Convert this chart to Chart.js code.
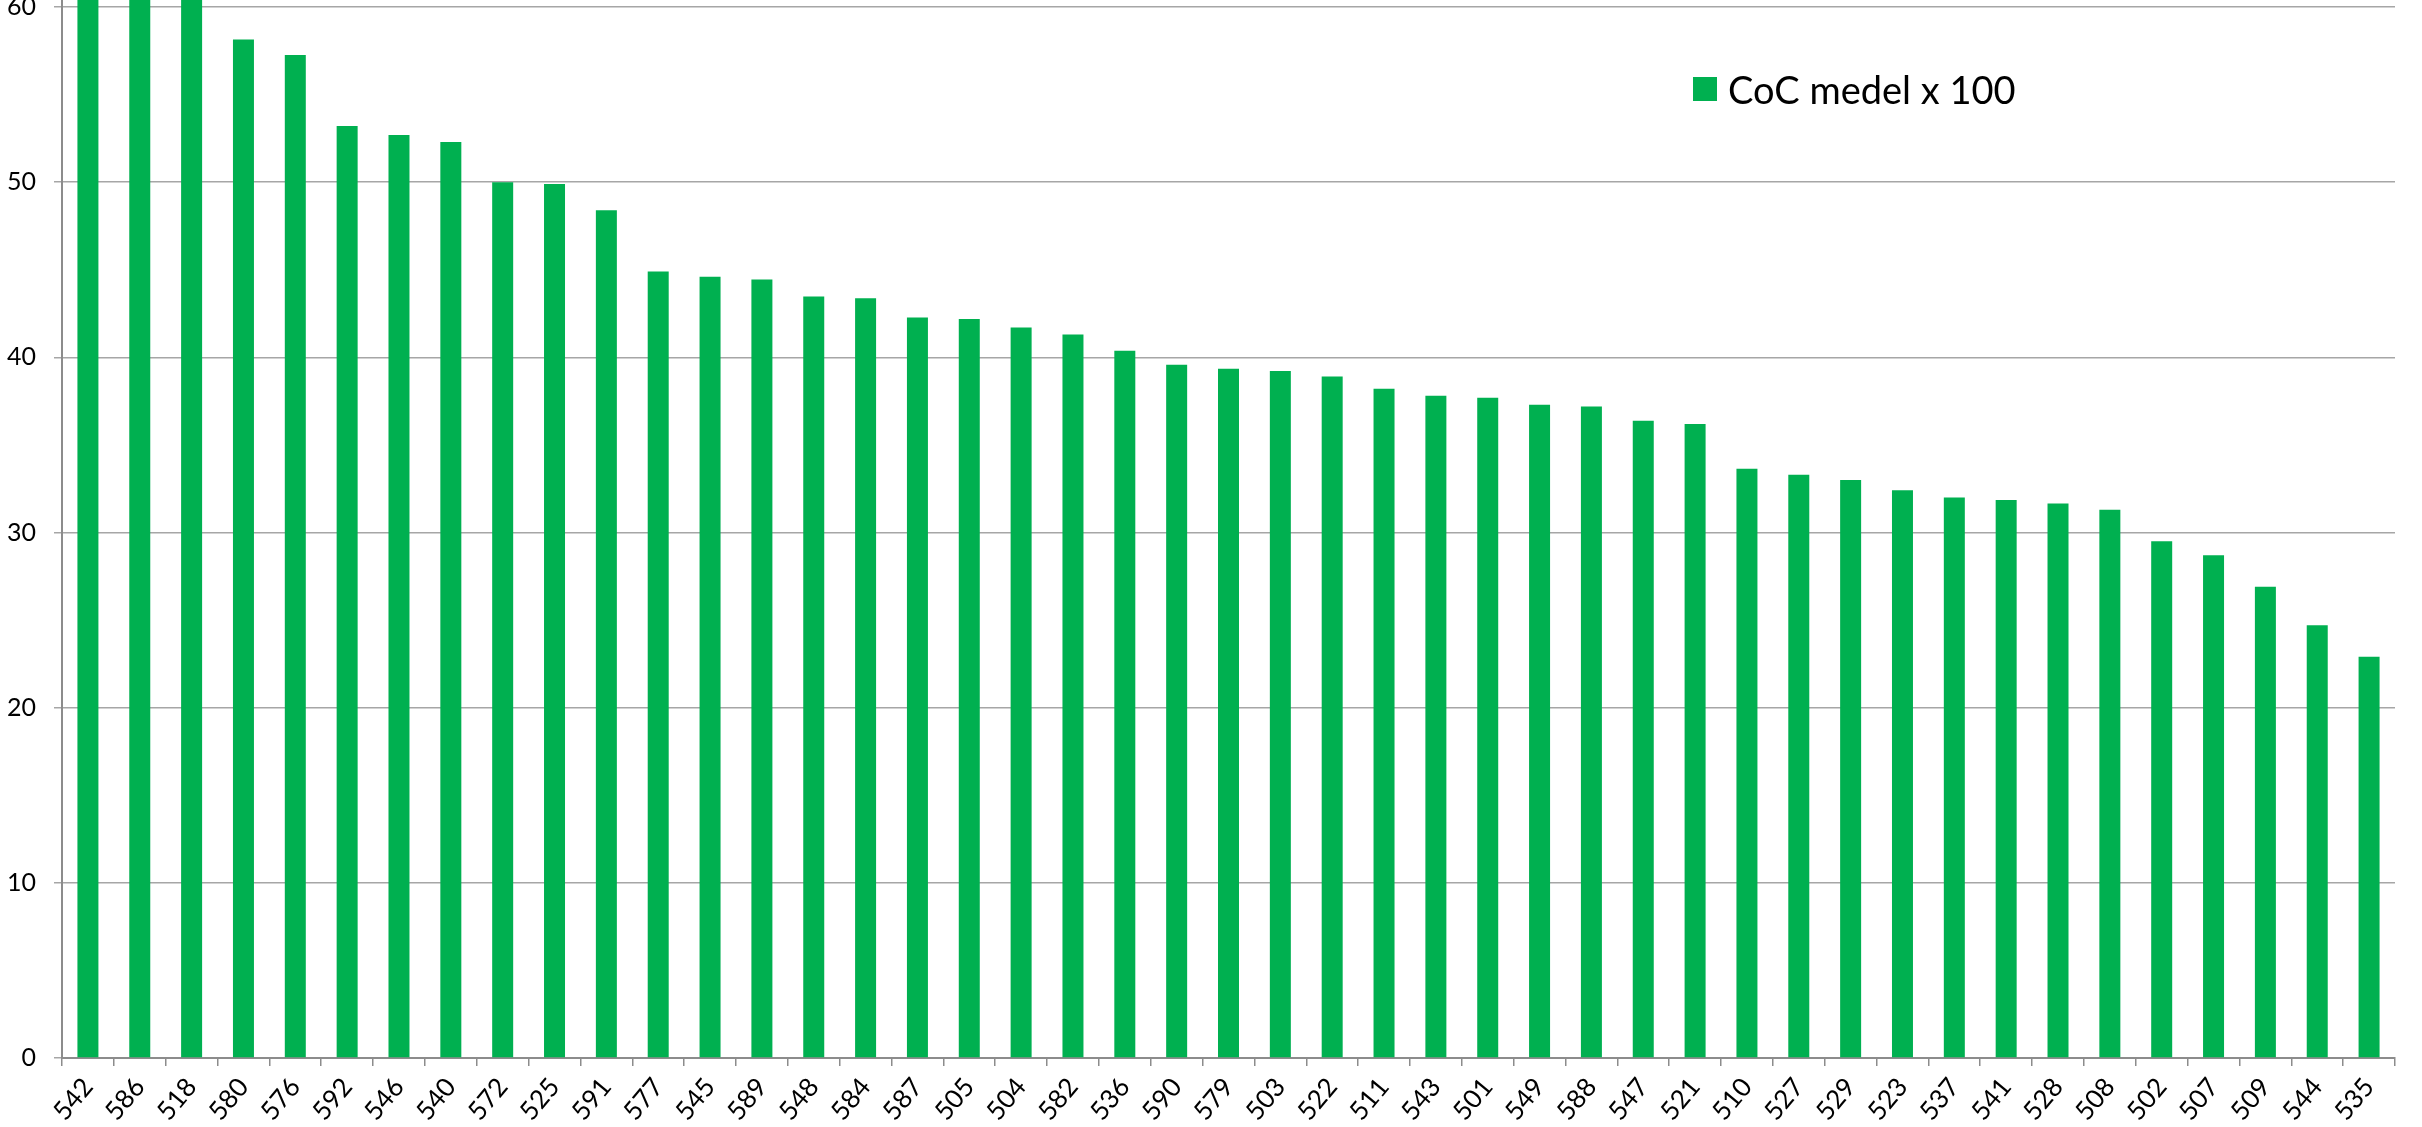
<!DOCTYPE html>
<html>
<head>
<meta charset="utf-8">
<script src="https://cdn.jsdelivr.net/npm/chart.js@4/dist/chart.umd.min.js"></script>
<style>
  html, body { margin: 0; padding: 0; background: #fff; }
  #wrap { position: relative; width: 2422px; height: 1127px; overflow: hidden; }
  #legend { position: absolute; left: 1693px; top: 66px; font-family: Lato, sans-serif; font-size: 38px; color: #000; display: flex; align-items: center; }
  #legend .box { width: 24px; height: 24px; margin-right: 11px; }
</style>
</head>
<body>
<div id="wrap">
  <canvas id="chart"></canvas>
  <div id="legend"></div>
</div>
<script>
// categories and values
var categories = ['542','586','518','580','576','592','546','540','572','525','591','577','545','589','548',
                  '584','587','505','504','582','536','590','579','503','522','511','543','501','549','588',
                  '547','521','510','527','529','523','537','541','528','508','502','507','509','544','535'];
var cocValues = [66, 65, 63, 58.15, 57.26, 53.2, 52.7, 52.3, 50.0, 49.9, 48.4, 44.9, 44.6, 44.45, 43.47,
                 43.37, 42.27, 42.19, 41.71, 41.31, 40.38, 39.58, 39.35, 39.22, 38.9, 38.2, 37.8, 37.7, 37.3, 37.2,
                 36.38, 36.2, 33.64, 33.3, 33.0, 32.41, 32.0, 31.86, 31.65, 31.3, 29.5, 28.7, 26.9, 24.7, 22.9];
var yTicks = [0, 10, 20, 30, 40, 50, 60];
var seriesName = 'CoC medel x 100';
var barColor = '#00b050';

document.addEventListener('DOMContentLoaded', function() {
    var ctx = document.getElementById('chart');

    var chart = new Chart(ctx, {
        type: 'bar',
        data: {
            labels: categories,
            datasets: [{
                label: seriesName,
                data: cocValues,
                backgroundColor: barColor,
                borderWidth: 0,
                categoryPercentage: 1,
                barPercentage: 0.405
            }]
        },
        options: {
            responsive: true,
            maintainAspectRatio: false,
            animation: false,
            devicePixelRatio: 1,
            layout: { padding: { left: 0, right: 27, top: 0, bottom: 0 } },
            plugins: {
                legend: { display: false },
                tooltip: { enabled: false }
            },
            scales: {
                x: {
                    offset: true,
                    grid: {
                        offset: true,
                        drawOnChartArea: false,
                        drawTicks: true,
                        tickLength: 8,
                        color: '#8c8c8c',
                        lineWidth: 1.5
                    },
                    border: { color: '#8c8c8c', width: 2 },
                    ticks: {
                        autoSkip: false,
                        maxRotation: 50,
                        minRotation: 50,
                        padding: 6,
                        color: '#000',
                        font: { family: 'Lato', size: 26 }
                    },
                    afterFit: function(scale) {
                        scale.height = 69;
                        scale.paddingLeft = 0;
                        scale.paddingRight = 0;
                    }
                },
                y: {
                    min: 0,
                    max: 60.4,
                    afterBuildTicks: function(scale) {
                        scale.ticks = yTicks.map(function(v) { return { value: v }; });
                    },
                    grid: {
                        color: '#a6a6a6',
                        lineWidth: 1.5,
                        drawTicks: true,
                        tickLength: 8
                    },
                    border: { color: '#8c8c8c', width: 2 },
                    ticks: {
                        padding: 18,
                        color: '#000',
                        font: { family: 'Lato', size: 25 }
                    },
                    afterFit: function(scale) {
                        scale.width = 62;
                        scale.paddingTop = 0;
                        scale.paddingBottom = 0;
                    }
                }
            }
        }
    });

    // HTML legend built from the dataset
    var legendEl = document.getElementById('legend');
    chart.data.datasets.forEach(function(ds) {
        var item = document.createElement('div');
        item.style.display = 'flex';
        item.style.alignItems = 'center';
        item.innerHTML = '<span class="box" style="background:' + ds.backgroundColor + '"></span><span>' + ds.label + '</span>';
        legendEl.appendChild(item);
    });
});
</script>
</body>
</html>
